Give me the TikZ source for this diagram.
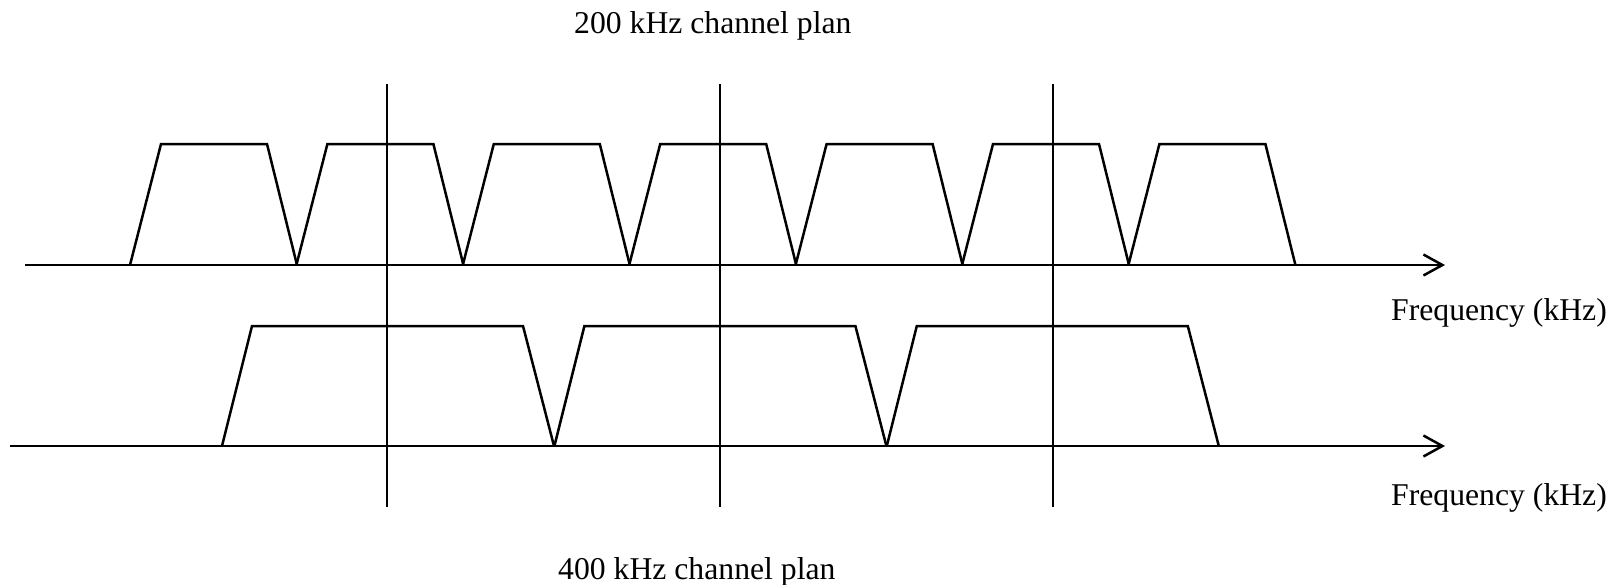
\documentclass[tikz,border=0pt]{standalone}
\usepackage{fontspec}
\setmainfont{Liberation Serif}
\usetikzlibrary{arrows.meta}
\begin{document}
\begin{tikzpicture}[x=1pt,y=-1pt,
  wave/.style={line width=2.5pt, line join=miter},
  axis/.style={line width=2.7pt, -{Straight Barb[length=19pt,width=21pt,line width=2.5pt]}},
  marker/.style={line width=2.5pt},
  lbl/.style={anchor=base west, inner sep=0pt, font=\fontsize{31.7}{38}\selectfont}]
\useasboundingbox (0,0) rectangle (1619,584);
% axes
\coordinate (a1s) at (25,265);
\coordinate (a1e) at (1445,265);
\coordinate (a2s) at (10,446);
\coordinate (a2e) at (1445,446);
\draw[axis] (a1s) -- (a1e);
\draw[axis] (a2s) -- (a2e);
% 200 kHz channels
\foreach \i in {0,...,6}{
  \pgfmathsetmacro{\b}{130+166.4*\i}
  \draw[wave] (\b,265) -- (\b+31,144) -- (\b+137,144) -- (\b+167,265);
}
% 400 kHz channels
\foreach \i in {0,...,2}{
  \pgfmathsetmacro{\b}{222+332.4*\i}
  \draw[wave] (\b,446) -- (\b+30,326) -- (\b+301,326) -- (\b+332,446);
}
% vertical markers
\foreach \x/\n in {387/v1,720/v2,1053/v3}{
  \coordinate (\n t) at (\x,84);
  \coordinate (\n b) at (\x,507);
  \draw[marker] (\n t) -- (\n b);
}
% labels
\node[lbl] (t200) at (574,33) {200 kHz channel plan};
\node[lbl] (t400) at (558,579) {400 kHz channel plan};
\node[lbl] (f1) at (1391,320) {Frequency (kHz)};
\node[lbl] (f2) at (1391,505) {Frequency (kHz)};
\end{tikzpicture}
\end{document}
